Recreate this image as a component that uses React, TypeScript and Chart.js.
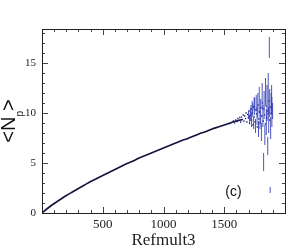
import React, { useEffect, useRef } from "react";
import { Chart, registerables } from "chart.js";

Chart.register(...registerables);

// Mean curve <Np> vs Refmult3
const curveX = [0, 50, 100, 150, 200, 250, 300, 350, 400, 450, 500, 550, 600, 650, 700, 750, 800, 850, 900, 950, 1000, 1050, 1100, 1150, 1200, 1250, 1300, 1350, 1400, 1450, 1500, 1550, 1600, 1650];
const curveY = [0, 0.5, 0.95, 1.35, 1.75, 2.1, 2.45, 2.8, 3.15, 3.45, 3.75, 4.05, 4.35, 4.65, 4.95, 5.2, 5.5, 5.75, 6.0, 6.25, 6.5, 6.75, 7.0, 7.25, 7.45, 7.7, 7.95, 8.15, 8.4, 8.6, 8.8, 9.0, 9.2, 9.35];

// scattered high-multiplicity points
const dotX = [1540, 1560, 1575, 1585, 1595, 1605, 1612, 1620, 1628, 1635, 1642, 1650, 1656, 1662, 1668, 1675, 1680, 1686, 1692, 1698, 1703, 1708, 1714, 1720, 1725, 1730, 1736, 1742, 1748, 1754, 1760, 1766, 1772, 1778, 1784, 1790, 1796, 1802, 1808, 1814, 1820, 1826, 1832, 1838, 1844, 1850, 1856, 1862, 1868, 1874, 1880, 1886];
const dotY = [8.95, 9.05, 9.2, 9.0, 9.3, 9.15, 9.45, 9.25, 9.55, 9.1, 9.6, 9.35, 9.8, 9.2, 9.7, 9.45, 10.0, 9.1, 9.85, 9.5, 10.2, 8.95, 9.75, 10.4, 9.3, 10.0, 8.8, 10.6, 9.6, 9.1, 10.3, 9.9, 8.6, 10.8, 9.4, 10.1, 9.0, 10.5, 9.7, 11.0, 9.2, 10.4, 9.8, 8.9, 10.7, 9.5, 10.2, 9.9, 11.2, 9.3, 10.6, 10.0];

// error bars
const errX = [1700, 1708, 1715, 1720, 1725, 1730, 1735, 1742, 1746, 1750, 1757, 1763, 1770, 1776, 1782, 1788, 1794, 1800, 1806, 1812, 1818, 1824, 1828, 1834, 1840, 1846, 1852, 1858, 1862, 1866, 1871, 1874, 1878, 1882, 1886, 1890, 1892, 1898];
const errLo = [9.4, 9.0, 9.2, 9.8, 8.6, 10.0, 9.6, 8.4, 10.3, 9.8, 8.0, 10.2, 8.8, 9.5, 7.6, 10.0, 8.4, 9.0, 7.2, 10.4, 8.6, 4.2, 9.4, 6.8, 10.8, 7.8, 9.2, 5.8, 10.0, 8.0, 15.5, 9.6, 2.0, 7.4, 9.8, 10.2, 8.6, 9.4];
const errHi = [10.2, 9.8, 10.4, 10.8, 10.0, 11.2, 11.0, 9.6, 11.6, 11.5, 9.4, 11.8, 10.6, 12.0, 9.2, 12.6, 10.2, 11.4, 9.0, 13.0, 10.8, 6.0, 12.2, 8.8, 13.5, 10.4, 12.8, 7.6, 14.0, 10.6, 17.6, 12.4, 2.6, 9.6, 12.0, 12.8, 11.6, 11.0];

const xTickLabels = [500, 1000, 1500];
const yTickLabels = [0, 5, 10, 15];

const framePlugin = {
  id: "frameTicks",
  afterDraw(chart: any) {
    const { ctx, chartArea } = chart;
    const xs = chart.scales.x;
    const ys = chart.scales.y;
    const { left, right, top, bottom } = chartArea;
    ctx.save();
    ctx.strokeStyle = "#444";
    ctx.lineWidth = 1;
    for (let v = 0; v <= 2000; v += 100) {
      const px = Math.round(xs.getPixelForValue(v)) + 0.5;
      const len = v % 500 === 0 ? 6 : 3;
      ctx.beginPath();
      ctx.moveTo(px, bottom);
      ctx.lineTo(px, bottom - len);
      ctx.moveTo(px, top);
      ctx.lineTo(px, top + len);
      ctx.stroke();
    }
    for (let v = 0; v <= 18; v += 1) {
      const py = Math.round(ys.getPixelForValue(v)) + 0.5;
      const len = v % 5 === 0 ? 6 : 3;
      ctx.beginPath();
      ctx.moveTo(left, py);
      ctx.lineTo(left + len, py);
      ctx.moveTo(right, py);
      ctx.lineTo(right - len, py);
      ctx.stroke();
    }
    ctx.strokeStyle = "#222";
    ctx.strokeRect(Math.round(left) + 0.5, Math.round(top) + 0.5, Math.round(right - left), Math.round(bottom - top));

    // panel label
    ctx.fillStyle = "#111";
    ctx.font = "14px 'Liberation Sans', Arial, sans-serif";
    ctx.textAlign = "center";
    ctx.textBaseline = "alphabetic";
    ctx.fillText("(c)", 233.5, 196);

    // x title
    ctx.font = "17px 'Liberation Serif', 'Times New Roman', serif";
    ctx.fillStyle = "#222";
    ctx.fillText("Refmult3", (left + right) / 2, 245);

    // y title <N_p>
    ctx.translate(15, (top + bottom) / 2);
    ctx.rotate(-Math.PI / 2);
    ctx.textAlign = "left";
    const big = "20px 'Liberation Sans', Arial, sans-serif";
    const small = "10px 'Liberation Sans', Arial, sans-serif";
    ctx.font = big;
    const w1 = ctx.measureText("<N").width;
    const w3 = ctx.measureText(">").width;
    ctx.font = small;
    const w2 = ctx.measureText("p").width;
    const total = w1 + w2 + w3;
    let x0 = -total / 2;
    ctx.fillStyle = "#111";
    ctx.font = big;
    ctx.fillText("<N", x0, 0);
    x0 += w1;
    ctx.font = small;
    ctx.fillText("p", x0, 7.5);
    x0 += w2;
    ctx.font = big;
    ctx.fillText(">", x0, 0);
    ctx.restore();
  },
};

export default function App() {
  const ref = useRef<HTMLCanvasElement>(null);
  useEffect(() => {
    if (!ref.current) return;
    const errData: any[] = [];
    errX.forEach((x, i) => {
      errData.push({ x, y: errLo[i] });
      errData.push({ x, y: errHi[i] });
      errData.push({ x, y: null });
    });
    const chart = new Chart(ref.current, {
      type: "scatter",
      data: {
        datasets: [
          {
            data: errData,
            showLine: true,
            spanGaps: false,
            borderColor: "rgba(45,55,180,0.85)",
            borderWidth: 1,
            pointRadius: 0,
          },
          {
            data: dotX.map((x, i) => ({ x, y: dotY[i] })),
            showLine: false,
            pointStyle: "rect",
            pointRadius: 0.9,
            backgroundColor: "#1a1a70",
            borderWidth: 0,
          },
          {
            data: curveX.map((x, i) => ({ x, y: curveY[i] })),
            showLine: true,
            borderColor: "#121240",
            borderWidth: 1.6,
            pointRadius: 0,
            tension: 0.3,
          },
        ],
      },
      options: {
        responsive: false,
        animation: false,
        layout: { padding: { top: 29, right: 6, left: 0, bottom: 0 } },
        plugins: { legend: { display: false }, tooltip: { enabled: false } },
        scales: {
          x: {
            type: "linear",
            min: 0,
            max: 2000,
            grid: { display: false, drawTicks: false },
            border: { display: false },
            ticks: {
              stepSize: 500,
              includeBounds: false,
              maxRotation: 0,
              padding: 4,
              color: "#222",
              font: { family: "'Liberation Serif', 'Times New Roman', serif", size: 13 },
              callback: (v: any) => (xTickLabels.includes(v) ? String(v) : ""),
            },
            afterFit: (s: any) => {
              s.height = 38;
            },
          },
          y: {
            type: "linear",
            min: 0,
            max: 18.4,
            grid: { display: false, drawTicks: false },
            border: { display: false },
            ticks: {
              stepSize: 5,
              includeBounds: false,
              padding: 6,
              color: "#222",
              font: { family: "'Liberation Serif', 'Times New Roman', serif", size: 11 },
              callback: (v: any) => (yTickLabels.includes(v) ? String(v) : ""),
            },
            afterFit: (s: any) => {
              s.width = 42;
            },
          },
        },
      },
      plugins: [framePlugin],
    });
    return () => chart.destroy();
  }, []);
  return (
    <div style={{ position: "absolute", left: 0, top: 0, width: 291, height: 251, background: "#fff" }}>
      <canvas ref={ref} width={291} height={251} style={{ width: 291, height: 251 }} />
    </div>
  );
}
